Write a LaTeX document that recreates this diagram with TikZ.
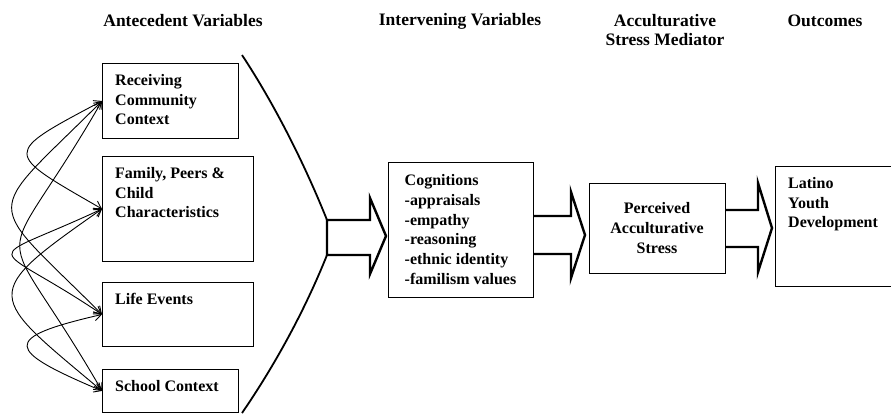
\documentclass[tikz,border=0pt]{standalone}
\usepackage{fontspec}
\setmainfont{Liberation Serif}
\usetikzlibrary{arrows.meta}
\newcommand{\bodyfont}{\fontsize{16}{19.7}\selectfont\bfseries}
\newcommand{\headfont}{\fontsize{17.5}{19}\selectfont\bfseries}
\tikzset{
  box/.style={draw,rectangle,line width=0.9pt,inner sep=0pt},
  boxtext/.style={anchor=north west,align=left,inner xsep=13pt,inner ysep=11pt,font=\bodyfont},
  header/.style={align=center,font=\headfont},
  fat/.style={line width=2.4pt,line join=miter,miter limit=20},
  link/.style={line width=0.9pt,{Straight Barb[length=7pt,width=9pt]}-{Straight Barb[length=7pt,width=9pt]}}
}
\begin{document}
\begin{tikzpicture}[x=1pt,y=-1pt]
  \useasboundingbox (0,0) rectangle (891,415);
  % column headers
  \draw (183,21) node[header] (hant) {Antecedent Variables};
  \draw (460,21) node[header] (hint) {Intervening Variables};
  \draw (665,30.5) node[header] (hacc) {Acculturative\\Stress Mediator};
  \draw (825,21) node[header] (hout) {Outcomes};
  %
  % antecedent boxes
  \draw (102,63) node[box,anchor=north west,minimum width=136pt,minimum height=75pt] (rcc) {};
  \draw (102,156) node[box,anchor=north west,minimum width=151pt,minimum height=105pt] (fam) {};
  \draw (102,282) node[box,anchor=north west,minimum width=151pt,minimum height=64pt] (life) {};
  \draw (102,369) node[box,anchor=north west,minimum width=136pt,minimum height=43pt] (school) {};
  \draw (rcc.north west) node[boxtext] (rcctxt) {Receiving\\Community\\Context};
  \draw (fam.north west) node[boxtext] (famtxt) {Family, Peers \&\\Child\\Characteristics};
  \draw (life.north west) node[boxtext] (lifetxt) {Life Events};
  \draw (school.north west) node[boxtext] (schooltxt) {School Context};
  %
  % mediators and outcome
  \draw (460.5,229.5) node[box,minimum width=145pt,minimum height=135pt,align=left,font=\bodyfont] (cog)
    {Cognitions\\-appraisals\\-empathy\\-reasoning\\-ethnic identity\\-familism values};
  \draw (657,228) node[box,minimum width=136pt,minimum height=90pt,align=center,font=\bodyfont] (stress)
    {Perceived\\Acculturative\\Stress};
  \draw (775,166) node[box,anchor=north west,minimum width=130pt,minimum height=120pt] (latino) {};
  \draw (latino.north west) node[boxtext] (latinotxt) {Latino\\Youth\\Development};
  %
  % links between antecedents
  \path[link]
    (rcc.west) edge[out=208,in=150,distance=114pt] (fam.west)
    (rcc.west) edge[out=225,in=135,distance=170pt] (life.west)
    (rcc.west) edge[out=240,in=120,distance=219pt] (school.west)
    (fam.west) edge[out=205,in=146,distance=138pt] (life.west)
    (fam.west) edge[out=215,in=140,distance=151pt] (school.west)
    (life.west) edge[out=193,in=157,distance=105pt] (school.west);
  %
  % bracket and block arrows
  \draw[line width=1.8pt] (242,55) .. controls (275,105) and (305,165) .. (327,220);
  \draw[line width=1.8pt] (327,255) .. controls (305,310) and (275,365) .. (242,413);
  \draw[fat] (327,220) -- (370,220) -- (370,198) -- (386,236) -- (370,274) -- (370,255) -- (327,255) -- cycle;
  \draw[fat] (533,216) -- (571,216) -- (571,192) -- (585,235) -- (571,278) -- (571,254) -- (533,254);
  \draw[fat] (725,210) -- (758,210) -- (758,183) -- (772,228) -- (758,272) -- (758,247) -- (725,247);
\end{tikzpicture}
\end{document}
